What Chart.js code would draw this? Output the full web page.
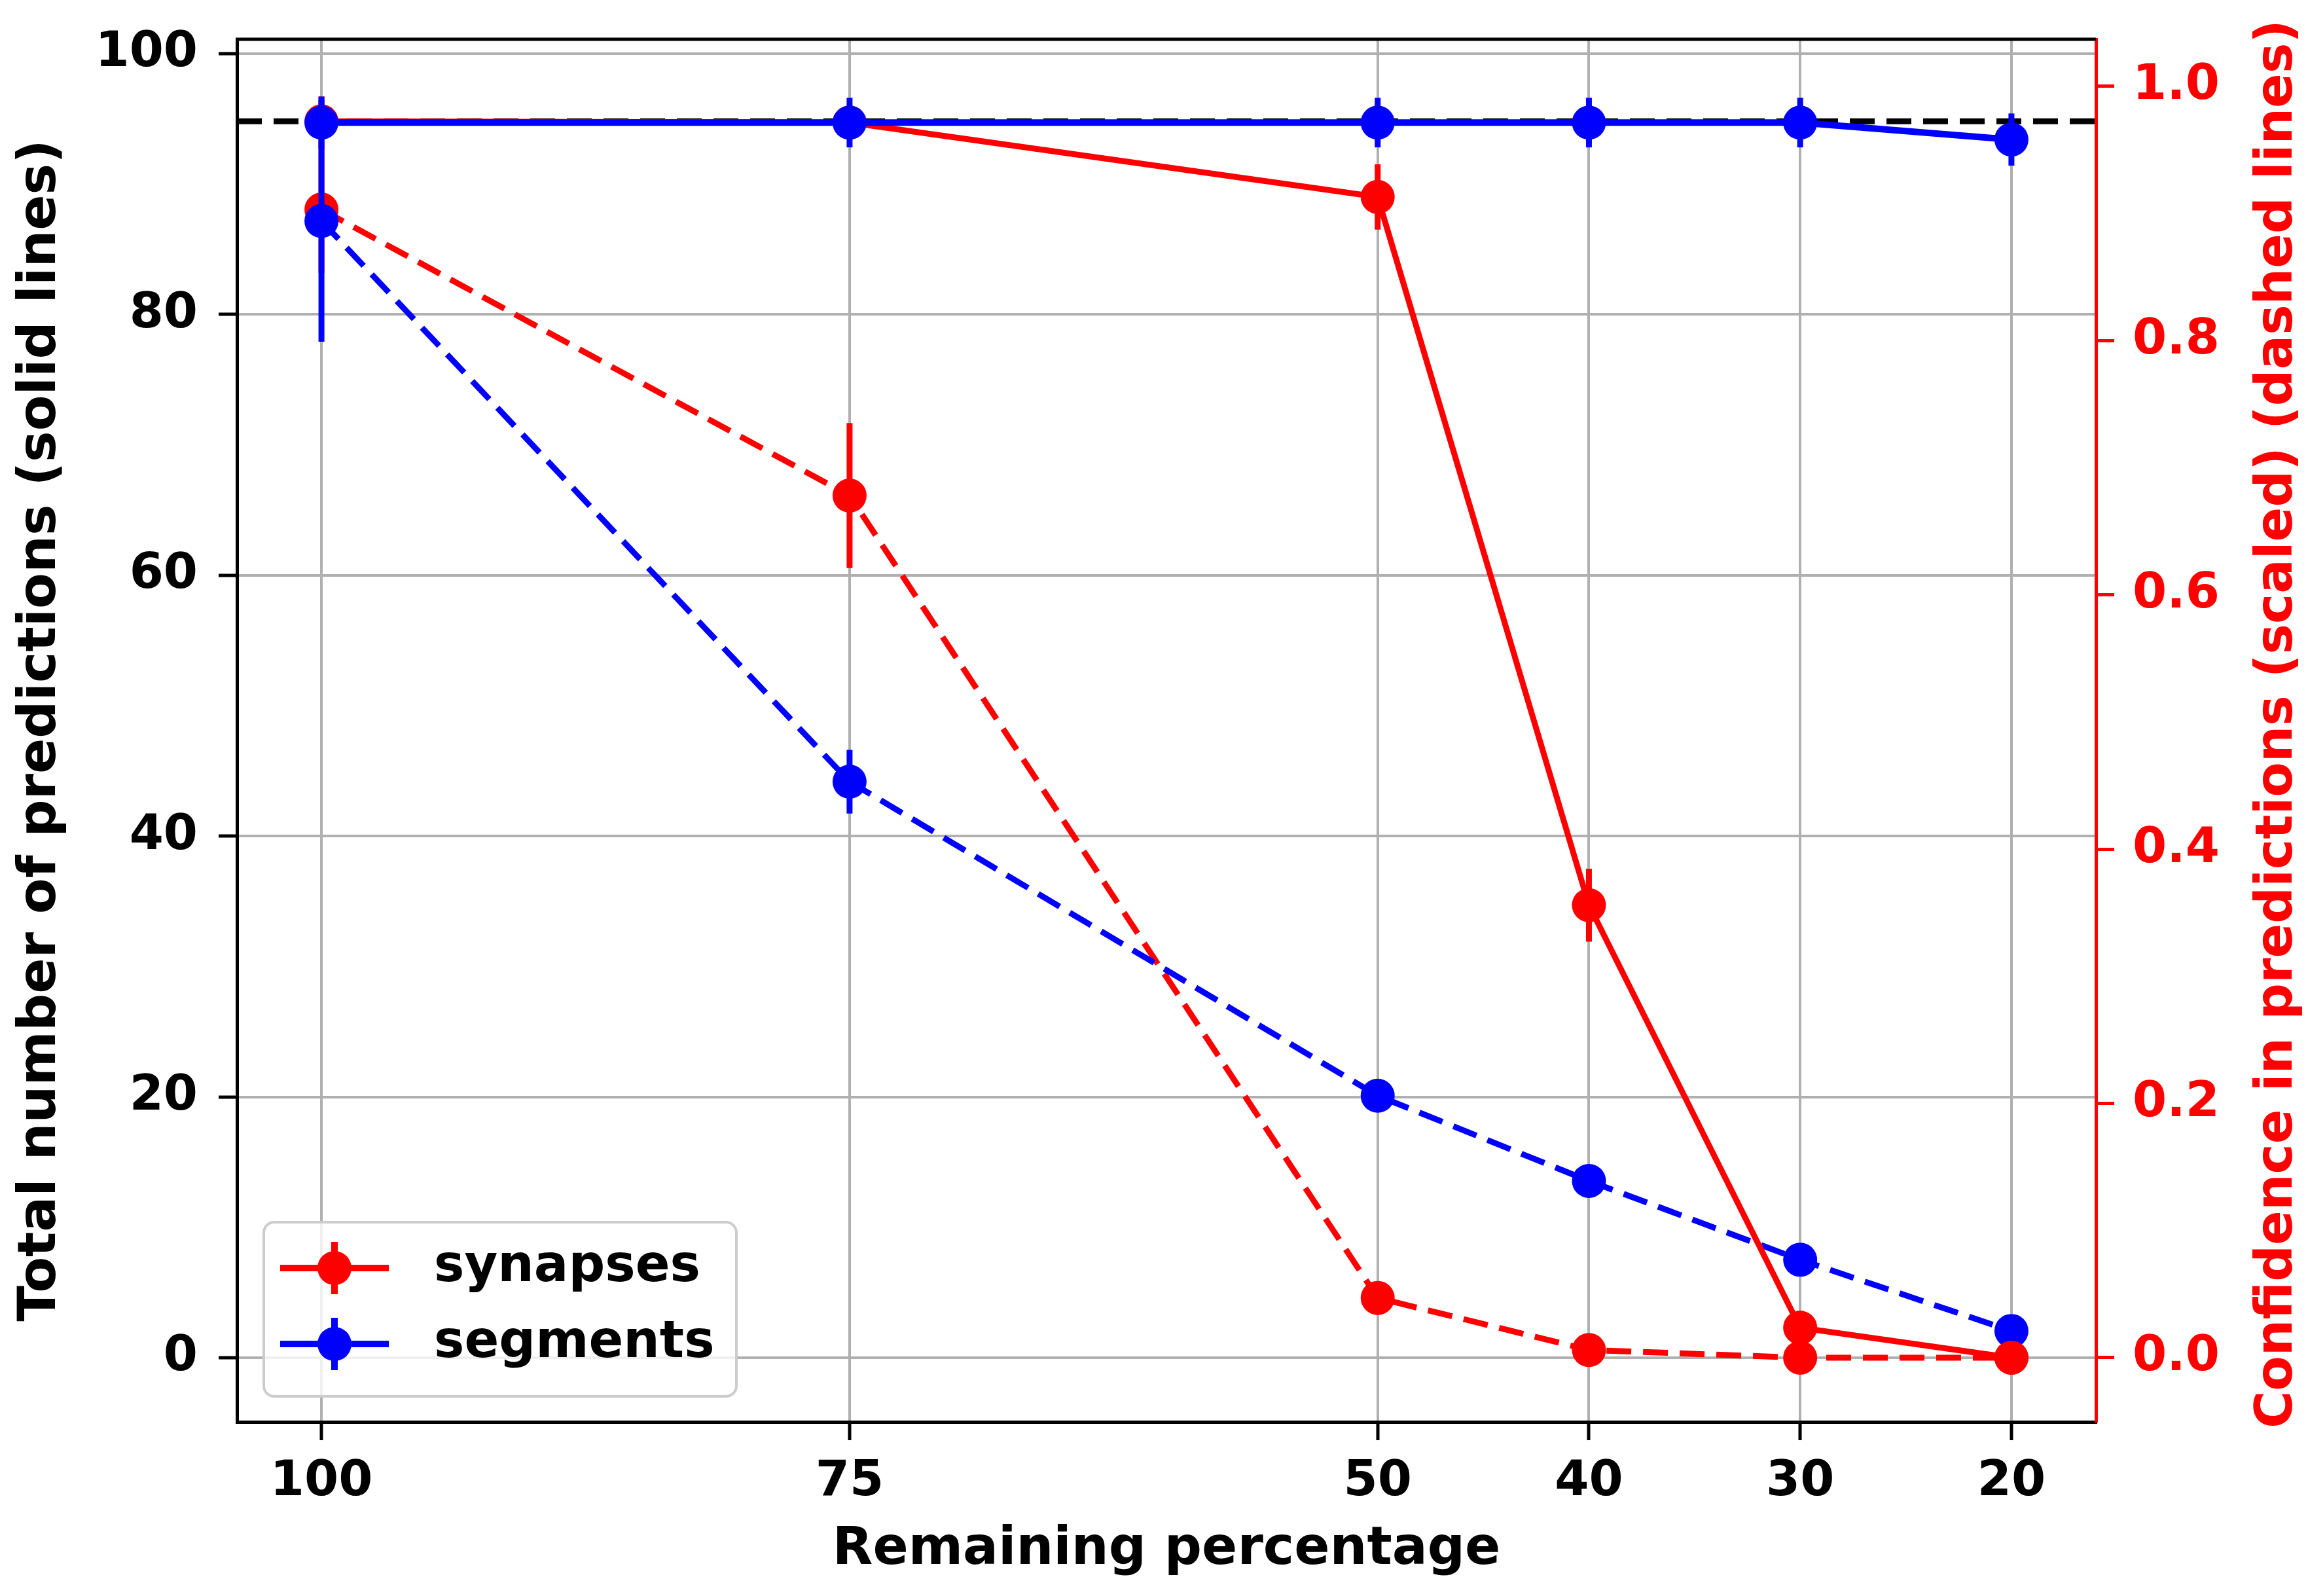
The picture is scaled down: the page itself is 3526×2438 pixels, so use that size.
<!DOCTYPE html>
<html>
<head>
<meta charset="utf-8">
<script src="https://cdn.jsdelivr.net/npm/chart.js@4.4.1/dist/chart.umd.min.js"></script>
<style>
html, body { margin: 0; padding: 0; background: #fff; }
#wrap { width: 3526px; height: 2438px; }
</style>
</head>
<body>
<div id="wrap"><canvas id="myChart"></canvas></div>
<script>
// x positions (remaining percentage) and tick labels
const remaining = [100, 75, 50, 40, 30, 20];
const xTicks = [100, 75, 50, 40, 30, 20];
const leftTicks = [0, 20, 40, 60, 80, 100];
const rightTicks = [0, 0.2, 0.4, 0.6, 0.8, 1.0];

// total number of predictions (solid lines, left axis)
const synapsesTotal = [94.8, 94.7, 89.0, 34.7, 2.3, 0.0];
const synapsesTotalErr = [1.9, 1.0, 2.5, 2.8, 1.3, 0.0];
const segmentsTotal = [94.7, 94.7, 94.7, 94.7, 94.7, 93.4];
const segmentsTotalErr = [2.0, 1.9, 1.9, 1.9, 1.9, 2.0];

// confidence in predictions (dashed lines, right axis)
const synapsesConf = [0.903, 0.678, 0.047, 0.006, 0.0, 0.0];
const synapsesConfErr = [0.05, 0.057, 0.0, 0.0, 0.0, 0.0];
const segmentsConf = [0.894, 0.453, 0.206, 0.139, 0.077, 0.021];
const segmentsConfErr = [0.095, 0.025, 0.005, 0.005, 0.005, 0.005];

// black dashed reference level across the whole x range
const referenceLevel = 94.8;
const xRange = [104, 16];

const FONT = "'DejaVu Sans', sans-serif";
const DASH = [38, 18];
const LW = 9;

const pts = (vals) => remaining.map((x, i) => ({ x: x, y: vals[i] }));

// keep Chart.js from growing the chart area for label overflow
const noPad = (s) => { s.paddingTop = 0; s.paddingBottom = 0; s.paddingLeft = 0; s.paddingRight = 0; };

// vertical error bars, drawn just before each dataset so layering follows the datasets
const errorBars = {
    id: 'errorBars',
    beforeDatasetDraw(chart, args) {
        const ds = chart.data.datasets[args.index];
        if (!ds.errors) return;
        const ctx = chart.ctx;
        const xs = chart.scales.x;
        const ys = chart.scales[ds.yAxisID];
        const area = chart.chartArea;
        ctx.save();
        ctx.beginPath();
        ctx.rect(area.left, area.top, area.right - area.left, area.bottom - area.top);
        ctx.clip();
        ctx.strokeStyle = ds.borderColor;
        ctx.lineWidth = LW;
        ctx.setLineDash([]);
        ds.data.forEach((p, i) => {
            const e = ds.errors[i];
            if (!e) return;
            const px = xs.getPixelForValue(p.x);
            ctx.beginPath();
            ctx.moveTo(px, ys.getPixelForValue(p.y + e));
            ctx.lineTo(px, ys.getPixelForValue(p.y - e));
            ctx.stroke();
        });
        ctx.restore();
    }
};

// top spine, right axis title and the legend box
const extras = {
    id: 'extras',
    afterDraw(chart) {
        const ctx = chart.ctx;
        const area = chart.chartArea;
        ctx.save();
        ctx.strokeStyle = '#000';
        ctx.lineWidth = 5;
        ctx.beginPath();
        ctx.moveTo(area.left - 2, area.top);
        ctx.lineTo(area.right, area.top);
        ctx.stroke();

        ctx.translate(3481, (area.top + area.bottom) / 2 - 10);
        ctx.rotate(-Math.PI / 2);
        ctx.fillStyle = 'red';
        ctx.font = 'bold 78px ' + FONT;
        ctx.textAlign = 'center';
        ctx.textBaseline = 'middle';
        ctx.fillText('Confidence in predictions (scaled) (dashed lines)', 0, 0);
        ctx.restore();

        // legend
        const entries = chart.data.datasets.filter(d => d.legendEntry);
        const bx = 403, by = 1867, bw = 722, bh = 266, r = 16;
        ctx.save();
        ctx.beginPath();
        ctx.moveTo(bx + r, by);
        ctx.arcTo(bx + bw, by, bx + bw, by + bh, r);
        ctx.arcTo(bx + bw, by + bh, bx, by + bh, r);
        ctx.arcTo(bx, by + bh, bx, by, r);
        ctx.arcTo(bx, by, bx + bw, by, r);
        ctx.closePath();
        ctx.fillStyle = 'rgba(255,255,255,0.8)';
        ctx.fill();
        ctx.strokeStyle = '#cccccc';
        ctx.lineWidth = 4;
        ctx.stroke();
        entries.forEach((d, i) => {
            const cy = 1937 + i * 116;
            ctx.strokeStyle = d.borderColor;
            ctx.lineWidth = 10;
            ctx.beginPath();
            ctx.moveTo(428, cy);
            ctx.lineTo(594, cy);
            ctx.moveTo(511, cy - 40);
            ctx.lineTo(511, cy + 40);
            ctx.stroke();
            ctx.fillStyle = d.borderColor;
            ctx.beginPath();
            ctx.arc(511, cy, 26, 0, Math.PI * 2);
            ctx.fill();
            ctx.fillStyle = '#000';
            ctx.font = 'bold 78px ' + FONT;
            ctx.textAlign = 'left';
            ctx.textBaseline = 'middle';
            ctx.fillText(d.label, 663, cy);
        });
        ctx.restore();
    }
};

const lineDefaults = {
    tension: 0,
    pointRadius: 26,
    pointBorderWidth: 0,
    pointHoverRadius: 26
};

const ctx = document.getElementById('myChart').getContext('2d');
const chart = new Chart(ctx, {
    type: 'line',
    data: {
        datasets: [
            {
                label: 'reference',
                data: xRange.map(x => ({ x: x, y: referenceLevel })),
                borderColor: '#000',
                borderWidth: LW,
                borderDash: DASH,
                pointRadius: 0,
                yAxisID: 'y',
                order: 5
            },
            Object.assign({}, lineDefaults, {
                label: 'synapses conf',
                data: pts(synapsesConf),
                errors: synapsesConfErr,
                borderColor: 'red',
                backgroundColor: 'red',
                pointBackgroundColor: 'red',
                borderWidth: LW,
                borderDash: DASH,
                yAxisID: 'y1',
                order: 4
            }),
            Object.assign({}, lineDefaults, {
                label: 'segments conf',
                data: pts(segmentsConf),
                errors: segmentsConfErr,
                borderColor: 'blue',
                backgroundColor: 'blue',
                pointBackgroundColor: 'blue',
                borderWidth: LW,
                borderDash: DASH,
                yAxisID: 'y1',
                order: 3
            }),
            Object.assign({}, lineDefaults, {
                label: 'synapses',
                legendEntry: true,
                data: pts(synapsesTotal),
                errors: synapsesTotalErr,
                borderColor: 'red',
                backgroundColor: 'red',
                pointBackgroundColor: 'red',
                borderWidth: LW,
                yAxisID: 'y',
                order: 2
            }),
            Object.assign({}, lineDefaults, {
                label: 'segments',
                legendEntry: true,
                data: pts(segmentsTotal),
                errors: segmentsTotalErr,
                borderColor: 'blue',
                backgroundColor: 'blue',
                pointBackgroundColor: 'blue',
                borderWidth: LW + 1,
                yAxisID: 'y',
                order: 1
            })
        ]
    },
    options: {
        responsive: true,
        maintainAspectRatio: false,
        devicePixelRatio: 1,
        animation: false,
        layout: { padding: { top: 60, left: 0, right: 0, bottom: 0 } },
        plugins: {
            legend: { display: false },
            tooltip: { enabled: false }
        },
        scales: {
            x: {
                type: 'linear',
                reverse: true,
                min: xRange[1],
                max: xRange[0],
                afterBuildTicks: (s) => { s.ticks = xTicks.map(v => ({ value: v })); },
                afterFit: (s) => { s.height = 266; noPad(s); },
                grid: { color: '#b0b0b0', lineWidth: 4, tickColor: '#000', tickLength: 28, tickWidth: 5 },
                border: { color: '#000', width: 5 },
                ticks: {
                    autoSkip: false,
                    maxRotation: 0,
                    padding: 20,
                    color: '#000',
                    font: { family: FONT, size: 75, weight: 'bold' },
                    callback: (v) => String(v)
                },
                title: {
                    display: true,
                    text: 'Remaining percentage',
                    color: '#000',
                    font: { family: FONT, size: 80, weight: 'bold' },
                    padding: { top: 0, bottom: 22 }
                }
            },
            y: {
                position: 'left',
                min: -4.92,
                max: 101.09,
                afterBuildTicks: (s) => { s.ticks = leftTicks.map(v => ({ value: v })); },
                afterFit: (s) => { s.width = 362; noPad(s); },
                grid: { color: '#b0b0b0', lineWidth: 4, tickColor: '#000', tickLength: 28, tickWidth: 5 },
                border: { color: '#000', width: 5 },
                ticks: {
                    padding: 32,
                    color: '#000',
                    font: { family: FONT, size: 75, weight: 'bold' },
                    callback: (v) => String(v)
                },
                title: {
                    display: true,
                    text: 'Total number of predictions (solid lines)',
                    color: '#000',
                    font: { family: FONT, size: 80, weight: 'bold' },
                    padding: { top: 15, bottom: 0 }
                }
            },
            y1: {
                position: 'right',
                min: -0.0505,
                max: 1.0369,
                afterBuildTicks: (s) => { s.ticks = rightTicks.map(v => ({ value: v })); },
                afterFit: (s) => { s.width = 324; noPad(s); },
                grid: { drawOnChartArea: false, tickColor: 'red', tickLength: 28, tickWidth: 5 },
                border: { color: 'red', width: 5 },
                ticks: {
                    padding: 28,
                    color: 'red',
                    font: { family: FONT, size: 75, weight: 'bold' },
                    callback: (v) => v.toFixed(1)
                }
            }
        }
    },
    plugins: [errorBars, extras]
});
</script>
</body>
</html>
